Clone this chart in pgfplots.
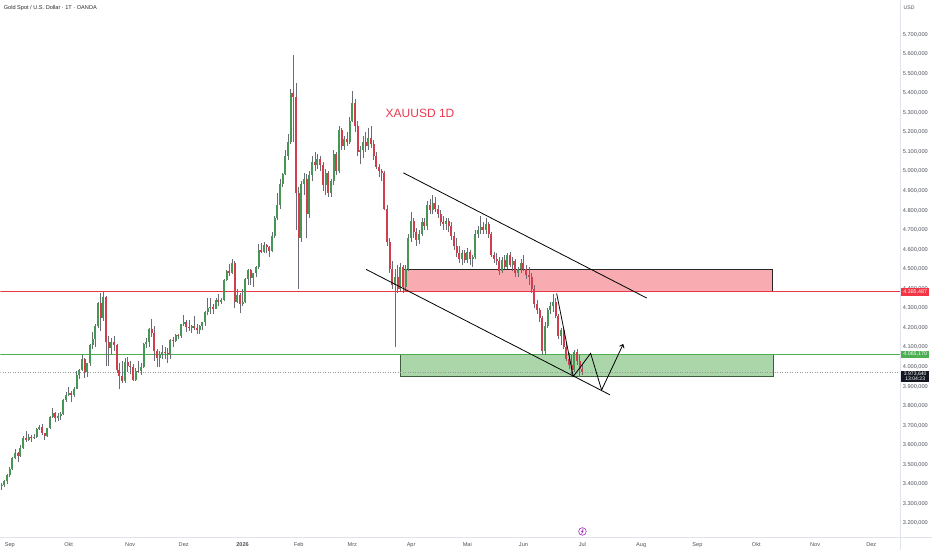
\documentclass[border=0pt]{standalone}
\usepackage{fontspec}
\setmainfont{Liberation Sans}
\usepackage{pgfplots}
\usepackage{pgfplotstable}
\pgfplotsset{compat=1.18}
\usetikzlibrary{arrows.meta}

\definecolor{upc}{RGB}{72,150,86}
\definecolor{dnc}{RGB}{208,62,78}
\definecolor{wickc}{RGB}{105,108,116}
\definecolor{levred}{RGB}{232,56,72}
\definecolor{levgreen}{RGB}{76,175,80}
\definecolor{pinkf}{RGB}{248,172,178}
\definecolor{greenf}{RGB}{170,214,170}
\definecolor{greenb}{RGB}{62,92,62}
\definecolor{txtc}{RGB}{80,83,94}
\definecolor{hdrc}{RGB}{40,42,48}
\definecolor{sepc}{RGB}{224,227,235}
\definecolor{tagred}{RGB}{242,54,69}
\definecolor{taggreen}{RGB}{76,175,80}
\definecolor{tagblack}{RGB}{19,23,34}
\definecolor{titlec}{RGB}{236,58,82}
\definecolor{evc}{RGB}{156,39,176}

\pgfplotstableread{
i o h l c
1 3366 3400 3358 3393
2 3393 3405 3370 3397
3 3397 3423 3385 3416
4 3416 3453 3400 3448
5 3448 3490 3436 3476
6 3476 3540 3470 3533
7 3533 3578 3527 3560
8 3560 3565 3511 3545
9 3545 3600 3540 3586
10 3586 3646 3578 3636
11 3636 3674 3614 3627
12 3627 3658 3620 3640
13 3640 3650 3615 3634
14 3634 3656 3630 3643
15 3643 3685 3635 3680
16 3680 3703 3675 3690
17 3690 3707 3650 3660
18 3660 3662 3627 3644
19 3644 3688 3640 3685
20 3685 3749 3683 3746
21 3746 3791 3738 3763
22 3763 3770 3718 3736
23 3736 3762 3722 3749
24 3749 3770 3730 3760
25 3760 3835 3756 3833
26 3833 3872 3818 3858
27 3858 3895 3852 3866
28 3866 3875 3820 3857
29 3857 3897 3845 3887
30 3887 3977 3885 3960
31 3960 3990 3940 3985
32 3985 4059 3980 4040
33 4040 4045 3944 3975
34 3975 4022 3947 4018
35 4018 4116 4005 4110
36 4110 4180 4090 4142
37 4142 4218 4100 4208
38 4208 4330 4200 4326
39 4326 4380 4185 4250
40 4250 4381 4236 4356
41 4356 4360 4004 4125
42 4125 4160 4005 4095
43 4095 4146 4065 4126
44 4126 4160 4080 4112
45 4112 4115 3971 3982
46 3982 4020 3886 3952
47 3952 4030 3917 3930
48 3930 4045 3920 4025
49 4025 4050 3975 4002
50 4002 4030 3965 4000
51 4000 4017 3927 3932
52 3932 3992 3930 3980
53 3980 4030 3970 3977
54 3977 4020 3960 4000
55 4000 4120 3995 4115
56 4115 4148 4095 4127
57 4127 4200 4100 4195
58 4195 4245 4155 4172
59 4172 4210 4032 4083
60 4083 4092 4000 4045
61 4045 4080 3998 4067
62 4067 4110 4040 4077
63 4077 4100 4040 4072
64 4072 4095 4022 4065
65 4065 4140 4040 4136
66 4136 4155 4100 4131
67 4131 4170 4125 4164
68 4164 4170 4140 4157
69 4157 4220 4150 4218
70 4218 4264 4210 4230
71 4230 4240 4180 4205
72 4205 4240 4185 4200
73 4200 4215 4175 4208
74 4208 4260 4190 4197
75 4197 4218 4170 4190
76 4190 4215 4170 4208
77 4208 4232 4190 4228
78 4228 4285 4210 4280
79 4280 4353 4265 4300
80 4300 4350 4270 4305
81 4305 4320 4270 4298
82 4298 4350 4295 4340
83 4340 4375 4310 4330
84 4330 4350 4320 4340
85 4340 4450 4338 4445
86 4445 4497 4440 4490
87 4490 4525 4465 4480
88 4480 4550 4475 4533
89 4533 4540 4300 4330
90 4330 4400 4325 4370
91 4370 4380 4275 4320
92 4320 4400 4310 4330
93 4330 4455 4325 4450
94 4450 4500 4420 4495
95 4495 4500 4420 4455
96 4455 4480 4410 4478
97 4478 4515 4460 4510
98 4510 4630 4500 4600
99 4600 4635 4580 4590
100 4590 4640 4580 4625
101 4625 4630 4580 4615
102 4615 4620 4560 4595
103 4595 4690 4590 4670
104 4670 4770 4660 4760
105 4760 4890 4750 4830
106 4830 4960 4810 4935
107 4935 4990 4920 4985
108 4985 5110 4980 5080
109 5080 5190 5060 5150
110 5150 5420 5140 5400
111 5400 5595 5150 5380
112 5380 5450 4700 4890
113 4890 4920 4400 4660
114 4660 4950 4640 4935
115 4935 4990 4880 4960
116 4960 4985 4660 4780
117 4780 5000 4760 4980
118 4980 5080 4950 5050
119 5050 5100 5000 5035
120 5035 5090 5010 5065
121 5065 5080 5000 5030
122 5030 5050 4900 4930
123 4930 5010 4880 4990
124 4990 5000 4870 4890
125 4890 4960 4870 4950
126 4950 5110 4930 5090
127 5090 5100 4980 5000
128 5000 5230 4990 5210
129 5210 5220 5110 5130
130 5130 5180 5110 5165
131 5165 5200 5130 5150
132 5150 5280 5140 5260
133 5260 5410 5250 5350
134 5350 5370 5200 5230
135 5230 5260 5080 5100
136 5100 5130 5040 5110
137 5110 5180 5070 5150
138 5150 5200 5100 5130
139 5130 5220 5110 5170
140 5170 5230 5120 5140
141 5140 5160 5060 5080
142 5080 5100 5010 5020
143 5020 5040 4970 5000
144 5000 5010 4950 4990
145 4990 5000 4800 4810
146 4810 4830 4620 4640
147 4640 4660 4480 4500
148 4500 4540 4400 4420
149 4420 4500 4100 4460
150 4460 4520 4380 4400
151 4400 4530 4390 4510
152 4510 4520 4380 4410
153 4410 4520 4390 4500
154 4500 4680 4490 4660
155 4660 4790 4640 4745
156 4745 4760 4660 4690
157 4690 4710 4620 4650
158 4650 4700 4630 4680
159 4680 4760 4670 4740
160 4740 4760 4700 4720
161 4720 4850 4700 4830
162 4830 4860 4780 4800
163 4800 4880 4780 4840
164 4840 4870 4790 4810
165 4810 4830 4760 4780
166 4780 4800 4720 4740
167 4740 4770 4700 4730
168 4730 4760 4700 4745
169 4745 4760 4690 4720
170 4720 4740 4650 4670
171 4670 4690 4600 4620
172 4620 4660 4560 4580
173 4580 4620 4530 4550
174 4550 4600 4520 4580
175 4580 4600 4530 4545
176 4545 4610 4530 4590
177 4590 4600 4520 4550
178 4550 4570 4510 4560
179 4560 4700 4550 4680
180 4680 4720 4660 4700
181 4700 4770 4680 4715
182 4715 4740 4680 4700
183 4700 4760 4680 4730
184 4730 4740 4660 4680
185 4680 4690 4560 4570
186 4570 4590 4530 4550
187 4550 4580 4520 4540
188 4540 4560 4470 4490
189 4490 4560 4480 4545
190 4545 4570 4500 4510
191 4510 4580 4500 4570
192 4570 4590 4510 4520
193 4520 4560 4490 4540
194 4540 4550 4460 4480
195 4480 4510 4460 4500
196 4500 4550 4480 4530
197 4530 4570 4490 4500
198 4500 4520 4450 4470
199 4470 4510 4420 4460
200 4460 4480 4380 4400
201 4400 4420 4300 4320
202 4320 4340 4270 4290
203 4290 4300 4230 4250
204 4250 4260 4060 4080
205 4080 4230 4060 4210
206 4210 4300 4200 4290
207 4290 4330 4270 4310
208 4310 4375 4280 4330
209 4330 4350 4250 4260
210 4260 4270 4140 4160
211 4160 4200 4110 4190
212 4190 4200 4090 4100
213 4100 4120 4030 4040
214 4040 4070 3990 4010
215 4010 4060 3965 3985
216 3985 4085 3975 4075
217 4075 4090 4010 4030
218 4030 4060 3950 3990
219 3990 4010 3960 3974
}\candles

\begin{document}
\begin{tikzpicture}[x=1pt,y=1pt]
\fill[white] (0,0) rectangle (932,550);
\begin{axis}[
  at={(0pt,13pt)}, anchor=south west,
  scale only axis, width=901pt, height=537pt,
  xmin=1.45, xmax=338, ymin=3130, ymax=5875,
  axis line style={draw=none},
  major tick length=0pt, minor tick num=0,
  xtick={5,27,50,70,92,113,133,155,176,197,219,241,262,284,306,327},
  xticklabels={Sep,Okt,Nov,Dez,\textbf{2026},Feb,Mrz,Apr,Mai,Jun,Jul,Aug,Sep,Okt,Nov,Dez},
  xticklabel style={font=\fontsize{5.6}{6.5}\selectfont, text=txtc, yshift=-2pt},
  ytick={3200,3300,...,5700},
  yticklabel pos=right,
  yticklabel style={font=\fontsize{5.6}{6.5}\selectfont, text=txtc, anchor=west, inner sep=0.4pt, xshift=1.6pt,
    /pgf/number format/.cd, fixed, fixed zerofill, precision=3, use comma, 1000 sep={.}, assume math mode=true},
  colormap={updn}{color=(dnc) color=(dnc) color=(upc) color=(upc)},
  point meta min=-1, point meta max=1,
  clip=true,
]
% zones: pink frame (dark) then pink fill
\addplot[forget plot, draw=none, fill=black!85] coordinates {(151.95,4385.5) (290.35,4385.5) (290.35,4502) (151.95,4502)};
\addplot[forget plot, draw=none, fill=pinkf] coordinates {(152.25,4385.5) (290.05,4385.5) (290.05,4498) (152.25,4498)};
% green frame then green fill
\addplot[forget plot, draw=none, fill=greenb] coordinates {(151.0,3948) (290.5,3948) (290.5,4066) (151.0,4066)};
\addplot[forget plot, draw=none, fill=greenf] coordinates {(151.3,3952) (290.2,3952) (290.2,4062) (151.3,4062)};
% horizontal levels (thin filled bands)
\addplot[forget plot, draw=none, fill=levred] coordinates {(1.45,4383.3) (338,4383.3) (338,4387.7) (1.45,4387.7)};
\addplot[forget plot, draw=none, fill=levgreen] coordinates {(1.45,4063) (338,4063) (338,4067.4) (1.45,4067.4)};
\draw[black!40, line width=0.5pt, dash pattern=on 1pt off 1.5pt] (axis cs:1.45,3973.64) -- (axis cs:338,3973.64);
% wicks
\addplot[forget plot, color=wickc, draw=wickc, line width=0.6pt,
  quiver={u=0, v=\thisrow{h}-\thisrow{l}}] table[x=i, y=l] {\candles};
% bodies
\addplot[forget plot, line width=2pt, point meta=explicit,
  quiver={u=0, v=\thisrow{c}-\thisrow{o}, colored=mapped color}]
  table[x=i, y=o, meta expr=\thisrow{c}-\thisrow{o}] {\candles};
% channel
\addplot[forget plot, color=black, draw=black, line width=0.8pt] coordinates {(152.1,4992.4) (243.1,4351.8)};
\addplot[forget plot, color=black, draw=black, line width=0.8pt] coordinates {(138.2,4498.6) (229.3,3857)};
% projection zigzag
\addplot[forget plot, color=black, draw=black, line width=0.8pt, -{Straight Barb[length=3pt,width=5pt]}] coordinates {(209.4,4376) (215.6,3950.5) (222.1,4069) (226.2,3881.5) (234.3,4117)};
\end{axis}
% separators
\draw[sepc, line width=0.6pt] (901,0) -- (901,550);
\draw[sepc, line width=0.6pt] (0,13) -- (932,13);
% title and header
\node[text=titlec, font=\fontsize{12}{14}\selectfont, inner sep=0pt] at (420,436.7) {XAUUSD 1D};
\node[text=hdrc, font=\fontsize{5.6}{6.5}\selectfont, anchor=west, inner sep=0pt] at (3.3,542.7) {Gold Spot / U.S. Dollar · 1T · OANDA};
\node[text=txtc, font=\fontsize{5.2}{6}\selectfont, inner sep=0pt] at (909.5,542.5) {USD};
% price tags
\node[fill=tagred, text=white, font=\fontsize{5.3}{6}\selectfont, inner sep=0.5pt, minimum width=28pt, minimum height=8pt] at (915.5,258.6) {4.385,487};
\node[fill=taggreen, text=white, font=\fontsize{5.3}{6}\selectfont, inner sep=0.3pt, minimum width=28pt, minimum height=7pt] at (915.5,195.9) {4.065,170};
\node[fill=tagblack, text=white, font=\fontsize{5.1}{5.9}\selectfont, inner sep=0.6pt, minimum width=28pt, align=center] at (915.5,173.8) {3.973,640\\13:04:23};
% event marker
\draw[evc, line width=0.6pt, fill=white] (582.5,18.5) circle (3.8);
\draw[evc, line width=0.5pt] (583.3,21) -- (581.5,18.2) -- (583.3,18.8) -- (581.7,16);
\end{tikzpicture}
\end{document}
